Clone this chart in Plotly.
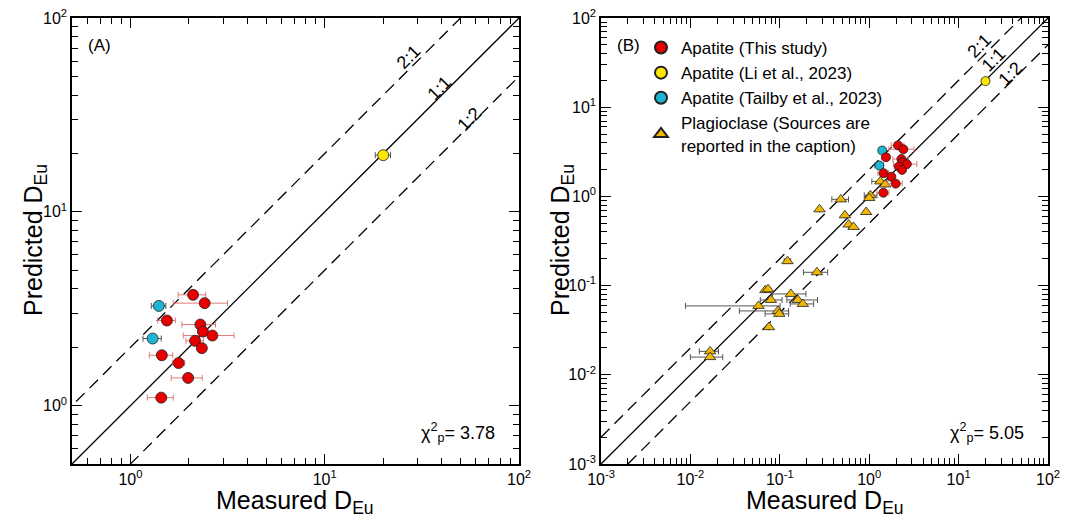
import math
import plotly.graph_objects as go

# ---------------- data ----------------
# Apatite (This study)
ap_x = [2.10, 2.41, 1.54, 2.29, 2.36, 2.64, 2.15, 2.33, 1.45, 1.77, 1.98, 1.44]
ap_y = [3.73, 3.38, 2.75, 2.62, 2.41, 2.30, 2.16, 1.98, 1.82, 1.66, 1.39, 1.10]
ap_xerr = [0.34, 0.75, 0.16, 0.45, 0.08, 0.77, 0.22, 0.08, 0.20, 0.13, 0.36, 0.22]

# Apatite (Li et al., 2023)
li_x = [20.0]
li_y = [19.6]
li_xerr = [1.8]

# Apatite (Tailby et al., 2023)
tb_x = [1.40, 1.30]
tb_y = [3.27, 2.22]
tb_xerr = [0.12, 0.14]

# Plagioclase (literature)
pl_x = [0.122, 0.260, 0.069, 0.074, 0.133, 0.0795, 0.159, 0.181, 0.0578, 0.0953,
        0.0985, 0.0755, 0.0166, 0.0166, 1.33, 1.51, 0.482, 1.03, 1.00, 0.278,
        0.535, 0.925, 0.589, 0.668]
pl_y = [0.188, 0.141, 0.089, 0.091, 0.0806, 0.069, 0.069, 0.0623, 0.0592, 0.052,
        0.0482, 0.0342, 0.0183, 0.0158, 1.47, 1.36, 0.926, 1.03, 0.96, 0.716,
        0.614, 0.668, 0.483, 0.455]
pl_xerr_plus = [0.01, 0.083, 0.0, 0.0, 0.063, 0.0265, 0.105, 0.058, 0.043, 0.030,
                0.027, 0.0, 0.004, 0.0064, 0.25, 0.0, 0.105, 0.19, 0.0, 0.0,
                0.0, 0.0, 0.0, 0.0]
pl_xerr_minus = [0.01, 0.076, 0.0, 0.0, 0.050, 0.019, 0.039, 0.050, 0.049, 0.060,
                 0.030, 0.0, 0.004, 0.0066, 0.26, 0.0, 0.100, 0.15, 0.0, 0.0,
                 0.0, 0.0, 0.0, 0.0]

chi_a = "3.78"
chi_b = "5.05"

range_a = [0.5, 100]
range_b = [1e-3, 100]

RED = "#e60000"
RED_ERR = "#e07a7a"
YEL = "#ffe600"
CYA = "#1fb3d4"
ORA = "#f2b705"
GRY = "#555555"
FONT = "Liberation Sans, Arial, sans-serif"

# page body has an 8px margin -> draw on a 1061x513 canvas
W, H = 1061, 513
OFF = 8
ML, MR, MT, MB = 0, 0, 10, 57
PW, PH = W - ML - MR, H - MT - MB

fig = go.Figure()


def ref_lines(xa, ya, rng):
    for ratio, dash in [(1.0, "solid"), (2.0, "12px,7px"), (0.5, "12px,7px")]:
        fig.add_trace(go.Scatter(
            x=[rng[0] / 4, rng[1] * 4], y=[rng[0] / 4 * ratio, rng[1] * 4 * ratio],
            mode="lines", line=dict(color="black", width=1.3, dash=dash),
            xaxis=xa, yaxis=ya, showlegend=False, hoverinfo="skip"))


def err(arr, color, minus=None):
    d = dict(type="data", array=arr, color=color, thickness=1, width=3, visible=True)
    if minus is not None:
        d["symmetric"] = False
        d["arrayminus"] = minus
    return d


def marker(color, symbol="circle", size=11):
    return dict(color=color, symbol=symbol, size=size, line=dict(color="#222222", width=0.8))


# Panel A
ref_lines("x", "y", range_a)
fig.add_trace(go.Scatter(x=tb_x, y=tb_y, mode="markers", error_x=err(tb_xerr, GRY),
                         marker=marker(CYA), xaxis="x", yaxis="y", showlegend=False))
fig.add_trace(go.Scatter(x=li_x, y=li_y, mode="markers", error_x=err(li_xerr, GRY),
                         marker=marker(YEL), xaxis="x", yaxis="y", showlegend=False))
fig.add_trace(go.Scatter(x=ap_x, y=ap_y, mode="markers", error_x=err(ap_xerr, RED_ERR),
                         marker=marker(RED), xaxis="x", yaxis="y", showlegend=False))

# Panel B
ref_lines("x2", "y2", range_b)
fig.add_trace(go.Scatter(x=pl_x, y=pl_y, mode="markers",
                         error_x=err(pl_xerr_plus, GRY, pl_xerr_minus),
                         marker=marker(ORA, "triangle-up", 10), xaxis="x2", yaxis="y2",
                         name="Plagioclase (Sources are<br>reported in the caption)",
                         legendrank=4))
fig.add_trace(go.Scatter(x=tb_x, y=tb_y, mode="markers", error_x=err(tb_xerr, GRY),
                         marker=marker(CYA, size=9), xaxis="x2", yaxis="y2",
                         name="Apatite (Tailby et al., 2023)", legendrank=3))
fig.add_trace(go.Scatter(x=li_x, y=li_y, mode="markers", error_x=err(li_xerr, GRY),
                         marker=marker(YEL, size=9), xaxis="x2", yaxis="y2",
                         name="Apatite (Li et al., 2023)", legendrank=2))
fig.add_trace(go.Scatter(x=ap_x, y=ap_y, mode="markers", error_x=err(ap_xerr, RED_ERR),
                         marker=marker(RED, size=9), xaxis="x2", yaxis="y2",
                         name="Apatite (This study)", legendrank=1))


def log_axis(rng, dom, anchor):
    lo = int(math.floor(math.log10(rng[0]) + 1e-9))
    hi = int(math.ceil(math.log10(rng[1]) - 1e-9))
    pw = [p for p in range(lo, hi + 1) if rng[0] * 0.999 <= 10 ** p <= rng[1] * 1.001]
    majors = [10 ** p for p in pw]
    labels = ["10<sup>%d</sup>" % p for p in pw]
    minors = []
    for p in range(lo - 1, hi + 1):
        for m in range(2, 10):
            v = m * 10 ** p
            if rng[0] * 1.0001 < v < rng[1] * 0.9999:
                minors.append(v)
    return dict(
        type="log", range=[math.log10(rng[0]), math.log10(rng[1])], domain=dom,
        anchor=anchor, tickmode="array", tickvals=majors, ticktext=labels,
        ticks="inside", ticklen=10, tickwidth=1.3, tickcolor="black",
        minor=dict(tickmode="array", tickvals=minors, ticks="inside", ticklen=6,
                   tickwidth=1.1, tickcolor="black", showgrid=False),
        showline=True, linecolor="black", linewidth=1.5, mirror="allticks",
        showgrid=False, zeroline=False, automargin=False,
        ticklabeloverflow="allow",
        tickfont=dict(family=FONT, size=16, color="black"),
    )


def xdom(a, b):
    return [(a - OFF - ML) / PW, (b - OFF - ML) / PW]


xa_dom = xdom(72, 519)
xb_dom = xdom(601, 1048)


def px_x(x):  # reference screen px -> paper x
    return (x - OFF - ML) / PW


def px_y(y):  # reference screen px -> paper y
    return (H - MB - (y - OFF)) / PH


fig.update_layout(
    width=W, height=H,
    margin=dict(l=ML, r=MR, t=MT, b=MB),
    paper_bgcolor="white", plot_bgcolor="white",
    font=dict(family=FONT, color="black"),
    xaxis=log_axis(range_a, xa_dom, "y"),
    yaxis=log_axis(range_a, [0, 1], "x"),
    xaxis2=log_axis(range_b, xb_dom, "y2"),
    yaxis2=log_axis(range_b, [0, 1], "x2"),
    showlegend=True,
    legend=dict(x=px_x(641), y=px_y(30),
                xanchor="left", yanchor="top", bgcolor="rgba(0,0,0,0)",
                font=dict(family=FONT, size=17, color="black"), itemsizing="constant",
                tracegroupgap=0),
)

ann = []
ann.append(dict(text="(A)", xref="paper", yref="paper", x=px_x(86), y=px_y(46),
                xanchor="left", yanchor="middle", showarrow=False, font=dict(size=17)))
ann.append(dict(text="(B)", xref="paper", yref="paper", x=px_x(615), y=px_y(46),
                xanchor="left", yanchor="middle", showarrow=False, font=dict(size=17)))
# axis titles
for cx in (295, 825):
    ann.append(dict(text="Measured D<sub>Eu</sub>", xref="paper", yref="paper",
                    x=px_x(cx), y=px_y(502), xanchor="center", yanchor="middle",
                    showarrow=False, font=dict(size=25)))
for cx in (35, 562):
    ann.append(dict(text="Predicted D<sub>Eu</sub>", xref="paper", yref="paper",
                    x=px_x(cx), y=px_y(240), xanchor="center", yanchor="middle",
                    textangle=-90, showarrow=False, font=dict(size=25)))
# ratio labels
for (txt, x, y) in [("2:1", 27, 63), ("1:1", 39, 43.4), ("1:2", 55.7, 30)]:
    ann.append(dict(text=txt, xref="x", yref="y", x=math.log10(x), y=math.log10(y),
                    showarrow=False, textangle=-45, font=dict(size=18)))
for (txt, x, y) in [("2:1", 17.0, 48.4), ("1:1", 24.4, 34), ("1:2", 37.8, 23.6)]:
    ann.append(dict(text=txt, xref="x2", yref="y2", x=math.log10(x), y=math.log10(y),
                    showarrow=False, textangle=-45, font=dict(size=18)))
ann.append(dict(text="χ<sup>2</sup><sub>p</sub>= " + chi_a, xref="paper", yref="paper",
                x=px_x(497), y=px_y(432), xanchor="right", yanchor="middle", showarrow=False,
                font=dict(size=18)))
ann.append(dict(text="χ<sup>2</sup><sub>p</sub>= " + chi_b, xref="paper", yref="paper",
                x=px_x(1026), y=px_y(432), xanchor="right", yanchor="middle", showarrow=False,
                font=dict(size=18)))
fig.update_layout(annotations=ann)

fig.write_html("out.html")
